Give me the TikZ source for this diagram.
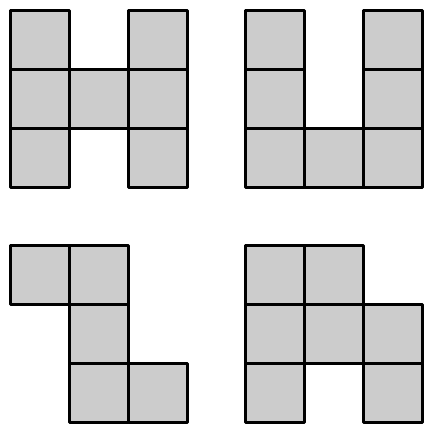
\documentclass[tikz,border=0pt]{standalone}
\begin{document}
\begin{tikzpicture}[x=1pt,y=-1pt,
  cell/.style={fill=black!20,draw=black,line width=3pt,line join=round}]
\useasboundingbox (0,0) rectangle (425,426);
\def\s{59}
% H shape
\foreach \c/\r in {0/0,0/1,0/2,1/1,2/0,2/1,2/2}
  \draw[cell] ({10+\c*\s},{10+\r*\s}) rectangle ++(\s,\s);
% U shape
\foreach \c/\r in {0/0,0/1,0/2,1/2,2/0,2/1,2/2}
  \draw[cell] ({245+\c*\s},{10+\r*\s}) rectangle ++(\s,\s);
% Z-like shape
\foreach \c/\r in {0/0,1/0,1/1,1/2,2/2}
  \draw[cell] ({10+\c*\s},{245+\r*\s}) rectangle ++(\s,\s);
% bottom right shape
\foreach \c/\r in {0/0,1/0,0/1,1/1,2/1,0/2,2/2}
  \draw[cell] ({245+\c*\s},{245+\r*\s}) rectangle ++(\s,\s);
\end{tikzpicture}
\end{document}
